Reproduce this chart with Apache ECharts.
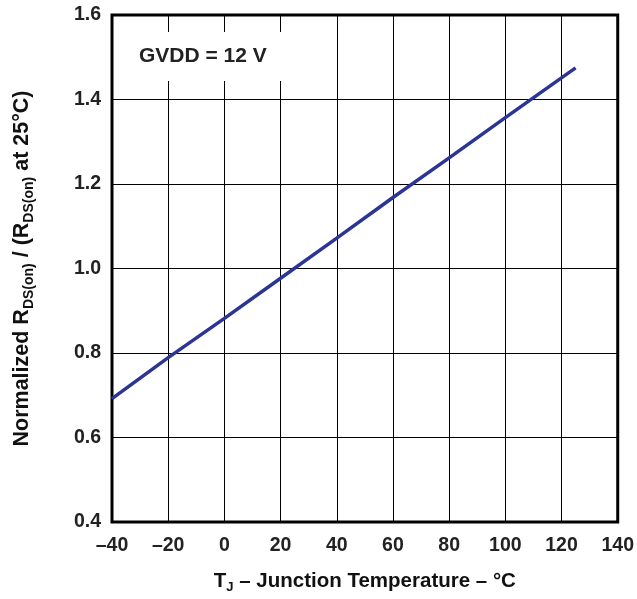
<!DOCTYPE html>
<html>
<head>
<meta charset="utf-8">
<script src="https://cdn.jsdelivr.net/npm/echarts@6/dist/echarts.min.js"></script>
<style>html,body{margin:0;padding:0;background:#fff;}#c{width:637px;height:599px;}</style>
</head>
<body>
<div id="c"></div>
<script>
const temps = [-40, -20, 0, 20, 40, 60, 80, 100, 125];
const rdsNorm = [0.692, 0.789, 0.882, 0.977, 1.072, 1.168, 1.262, 1.357, 1.475];
const xTicks = { min: -40, max: 140, step: 20 };
const yTicks = { min: 0.4, max: 1.6, step: 0.2 };
const annotation = 'GVDD = 12 V';

const font = 'Liberation Sans, Arial, sans-serif';
const chart = echarts.init(document.getElementById('c'));
chart.setOption({
  animation: false,
  title: {
    text: annotation,
    left: 126, top: 32,
    backgroundColor: '#fff',
    padding: [14, 22, 14, 13],
    textStyle: { fontFamily: font, fontWeight: 'bold', fontSize: 21, lineHeight: 21, color: '#222' }
  },
  grid: {
    left: 108, right: 17, top: 15, bottom: 74,
    show: true, borderColor: '#000', borderWidth: 3, backgroundColor: 'transparent'
  },
  xAxis: {
    type: 'value', min: xTicks.min, max: xTicks.max, interval: xTicks.step,
    axisLine: { show: false }, axisTick: { show: false },
    splitLine: { show: true, lineStyle: { color: '#000', width: 1 } },
    axisLabel: {
      margin: 14, fontFamily: font, fontWeight: 'bold', fontSize: 19.5, color: '#222',
      formatter: v => v < 0 ? '\u2013' + Math.abs(v) : String(v)
    },
    name: 'T{sub|J} \u2013 Junction Temperature \u2013 \u00b0C',
    nameLocation: 'middle', nameGap: 46,
    nameTextStyle: {
      fontFamily: font, fontWeight: 'bold', fontSize: 20.5, color: '#111', lineHeight: 26,
      rich: { sub: { fontFamily: font, fontWeight: 'bold', fontSize: 13, color: '#111', lineHeight: 15, verticalAlign: 'bottom' } }
    }
  },
  yAxis: {
    type: 'value', min: yTicks.min, max: yTicks.max, interval: yTicks.step,
    axisLine: { show: false }, axisTick: { show: false },
    splitLine: { show: true, lineStyle: { color: '#000', width: 1 } },
    axisLabel: {
      margin: 11, fontFamily: font, fontWeight: 'bold', fontSize: 19.5, color: '#222',
      formatter: v => v.toFixed(1)
    },
    name: 'Normalized R{sub|DS(on)} / (R{sub|DS(on)} at 25\u00b0C)',
    nameLocation: 'middle', nameGap: 76, nameRotate: 90,
    nameTextStyle: {
      fontFamily: font, fontWeight: 'bold', fontSize: 21.5, color: '#111', lineHeight: 28,
      rich: { sub: { fontFamily: font, fontWeight: 'bold', fontSize: 14, color: '#111', lineHeight: 16, verticalAlign: 'bottom' } }
    }
  },
  series: [{
    type: 'line',
    data: temps.map((t, i) => [t, rdsNorm[i]]),
    showSymbol: false,
    lineStyle: { color: '#2b3593', width: 3.5 },
    z: 3
  }]
});
</script>
</body>
</html>
